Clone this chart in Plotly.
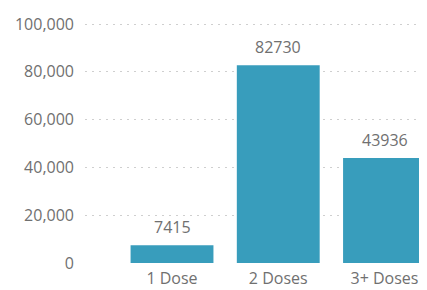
import plotly.graph_objects as go

categories = ["1 Dose", "2 Doses", "3+ Doses"]
values = [7415, 82730, 43936]
y_ticks = [0, 20000, 40000, 60000, 80000, 100000]
y_tick_labels = ["0", "20,000", "40,000", "60,000", "80,000", "100,000"]

BAR = "#389DBC"
TXT = "#707070"
FONT = "Open Sans"
FS = 16

fig = go.Figure()
fig.add_trace(go.Bar(
    x=[0, 1, 2], y=values, marker=dict(color=BAR, line=dict(width=0)),
    width=0.78, hoverinfo="skip",
))
for i, v in enumerate(values):
    fig.add_annotation(x=i, y=v, text=str(v), showarrow=False, yanchor="bottom",
                       yshift=5, font=dict(family=FONT, size=FS, color=TXT))

fig.update_layout(
    width=419, height=282,
    margin=dict(l=77, r=0, t=14, b=26, pad=0),
    paper_bgcolor="white", plot_bgcolor="white",
    showlegend=False,
    font=dict(family=FONT, size=FS, color=TXT),
    xaxis=dict(
        range=[-0.819, 2.4], tickmode="array", tickvals=[0, 1, 2], ticktext=categories,
        showgrid=False, zeroline=False, showline=False, ticks="", ticklabelstandoff=3,
        tickfont=dict(family=FONT, size=FS, color=TXT),
    ),
    yaxis=dict(
        range=[-420, 100840], tickmode="array", tickvals=y_ticks, ticktext=y_tick_labels,
        showgrid=True, gridcolor="#cfcfcf", griddash="2px,5px", gridwidth=1,
        zeroline=False, showline=False, ticks="", ticklabelstandoff=10,
        tickfont=dict(family=FONT, size=FS, color=TXT),
    ),
)
fig.write_html("out.html")
